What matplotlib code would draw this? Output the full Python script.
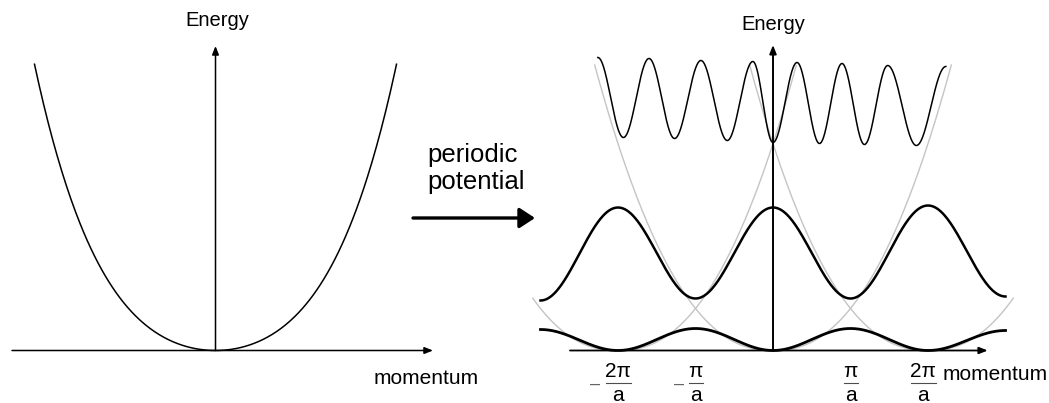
import numpy as np
import matplotlib.pyplot as plt
import matplotlib.transforms as mtransforms

plt.rcParams['font.family'] = ['Liberation Sans', 'DejaVu Sans']

# left panel: free electron curve E = a k^2 + b k^4 (k and E in 100 px units)
free_k_max = 1.81
free_a = 0.461
free_b = 0.126

# right panel: k in units of pi/a, E in the same units as the left panel
grey_centers = [-2, 0, 2]
grey_scale = 0.42
grey_power = 2.3
grey_top = 2.87
grey_k_range = (-3.1, 3.1)

# bands given by their turning points
band1_k = [-3, -2, -1, 0, 1, 2, 3]
band1_E = [0.21, 0.0, 0.22, 0.0, 0.22, 0.0, 0.20]

band2_k = [-3, -2, -1, 0, 1, 2, 3]
band2_E = [0.50, 1.43, 0.52, 1.43, 0.52, 1.45, 0.54]

band3_k = [-2.26, -1.93, -1.60, -1.27, -0.93, -0.59, -0.26, 0.0,
           0.31, 0.60, 0.89, 1.18, 1.48, 1.85, 2.23]
band3_E = [2.93, 2.13, 2.92, 2.12, 2.90, 2.10, 2.89, 2.08,
           2.88, 2.07, 2.87, 2.06, 2.85, 2.05, 2.84]

tick_k = [-2, -1, 1, 2]
tick_num = ['2π', 'π', 'π', '2π']
tick_neg = [True, True, False, False]


def through_extrema(ks, es, n=80):
    # half-cosine pieces between successive turning points
    t = np.linspace(0, 1, n)
    s = (1 - np.cos(np.pi * t)) / 2
    xs, ys = [], []
    for k0, k1, e0, e1 in zip(ks[:-1], ks[1:], es[:-1], es[1:]):
        xs.append(k0 + (k1 - k0) * t)
        ys.append(e0 + (e1 - e0) * s)
    return np.concatenate(xs), np.concatenate(ys)


W, H = 1049, 403
axis_row = 52.5  # px from the bottom where E = 0
fig = plt.figure(figsize=(W / 100, H / 100), dpi=100)


def panel(x_from, x_to, origin_x, px_per_k):
    ax = fig.add_axes([x_from / W, 0, (x_to - x_from) / W, 1])
    ax.set_xlim((x_from - origin_x) / px_per_k, (x_to - origin_x) / px_per_k)
    ax.set_ylim(-axis_row / 100, (H - axis_row) / 100)
    ax.axis('off')
    return ax


def axis_arrow(ax, start, end, lw):
    ax.annotate('', xy=end, xytext=start,
                arrowprops=dict(arrowstyle='-|>,head_length=0.5,head_width=0.2',
                                lw=lw, color='black', shrinkA=0, shrinkB=0,
                                mutation_scale=10),
                annotation_clip=False, zorder=4)


# ---- left panel ----
ax1 = panel(0, 524.5, 215.5, 100)
k = np.linspace(-free_k_max, free_k_max, 400)
ax1.plot(k, free_a * k**2 + free_b * k**4, color='black', lw=1.1)
axis_arrow(ax1, (-2.035, 0), (2.175, 0), 1.1)
axis_arrow(ax1, (0, 0), (0, 3.045), 1.1)
ax1.text(0.02, 3.305, 'Energy', ha='center', va='center', fontsize=14.5)
ax1.text(2.11, -0.275, 'momentum', ha='center', va='center', fontsize=15)

# ---- middle arrow ----
ax1.annotate('', xy=(535, H - 218), xytext=(413, H - 218),
             xycoords='figure pixels', textcoords='figure pixels',
             arrowprops=dict(arrowstyle='-|>,head_length=0.52,head_width=0.34',
                             lw=2.4, color='black', shrinkA=0, shrinkB=0,
                             mutation_scale=18))
fig.text(427 / W, 1 - 162 / H, 'periodic', fontsize=18.5, va='baseline')
fig.text(427 / W, 1 - 189 / H, 'potential', fontsize=18.5, va='baseline')

# ---- right panel ----
ax2 = panel(524.5, 1049, 773, 77.5)
kk = np.linspace(*grey_k_range, 800)
for g in grey_centers:
    e = grey_scale * np.abs(kk - g) ** grey_power
    e = np.where(e <= grey_top, e, np.nan)
    ax2.plot(kk, e, color='#c4c4c4', lw=1.0, zorder=1)

x, y = through_extrema(band1_k, band1_E)
ax2.plot(x, y, color='black', lw=2.0, zorder=2)
x, y = through_extrema(band2_k, band2_E)
ax2.plot(x, y, color='black', lw=1.8, zorder=2)
x, y = through_extrema(band3_k, band3_E)
ax2.plot(x, y, color='black', lw=1.1, zorder=2)

axis_arrow(ax2, (-2.62, 0), (2.77, 0), 1.3)
axis_arrow(ax2, (0, 0), (0, 3.055), 1.4)
ax2.text(0, 3.255, 'Energy', ha='center', va='center', fontsize=14.5)
ax2.text(2.19, -0.245, 'momentum', ha='left', va='center', fontsize=15)

for kt, num, neg in zip(tick_k, tick_num, tick_neg):
    # the last fraction sits a little left of its tick, next to the label
    nudge = -5 if kt == tick_k[-1] else 0
    ax2.annotate(num, xy=(kt, 0), xytext=(nudge, -26.5), textcoords='offset pixels',
                 ha='center', va='baseline', fontsize=15)
    ax2.annotate('a', xy=(kt, 0), xytext=(nudge, -50.5), textcoords='offset pixels',
                 ha='center', va='baseline', fontsize=15)
    bar_tf = mtransforms.offset_copy(ax2.transData, fig=fig, x=nudge, y=-32, units='dots')
    half = (12.5 if len(num) == 2 else 7) / 77.5
    ax2.plot([kt - half, kt + half], [0, 0], transform=bar_tf,
             color='0.3', lw=0.8, clip_on=False)
    if neg:
        dx = -22.5 if len(num) == 2 else -16
        ax2.annotate('–', xy=(kt, 0), xytext=(dx, -38), textcoords='offset pixels',
                     ha='center', va='baseline', fontsize=13, color='0.4')

fig.savefig('out.png', dpi=100)
